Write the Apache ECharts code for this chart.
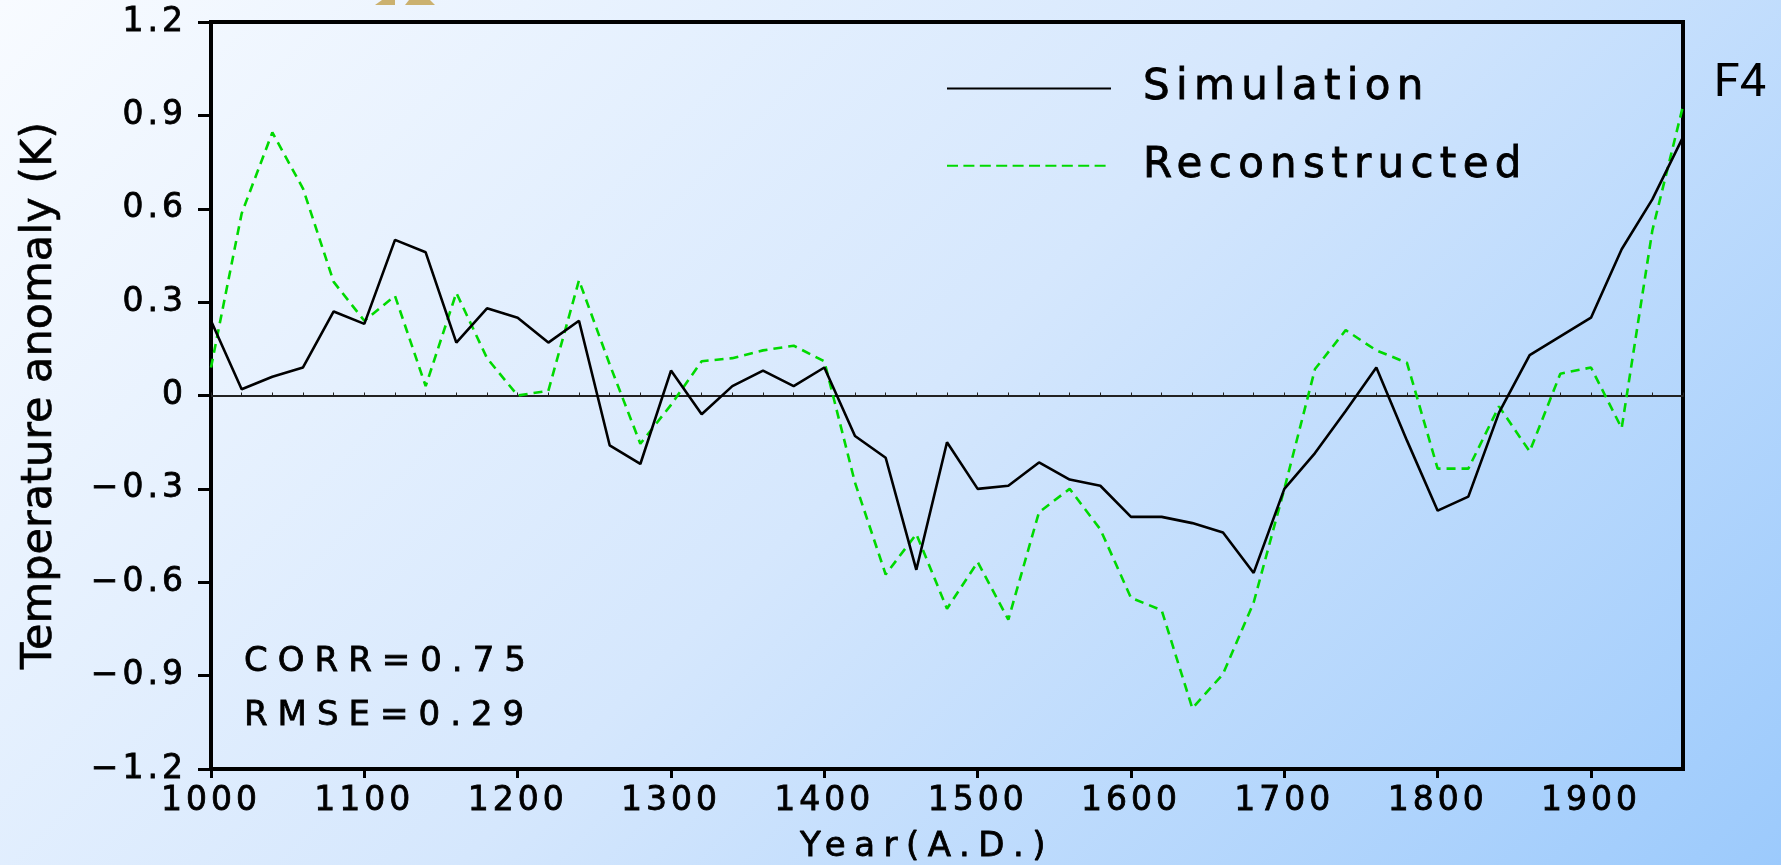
<!DOCTYPE html>
<html>
<head>
<meta charset="utf-8">
<script src="https://cdn.jsdelivr.net/npm/echarts@6/dist/echarts.min.js"></script>
<style>
html,body{margin:0;padding:0;background:#ffffff;overflow:hidden;}
#chart{width:1781px;height:865px;}
</style>
</head>
<body>
<div id="chart"></div>
<script>
// ---------------- data ----------------
const years = [1000,1020,1040,1060,1080,1100,1120,1140,1160,1180,
               1200,1220,1240,1260,1280,1300,1320,1340,1360,1380,
               1400,1420,1440,1460,1480,1500,1520,1540,1560,1580,
               1600,1620,1640,1660,1680,1700,1720,1740,1760,1780,
               1800,1820,1840,1860,1880,1900,1920,1940,1960];
const simulation = [0.24,0.02,0.06,0.09,0.27,0.23,0.50,0.46,0.17,0.28,
                    0.25,0.17,0.24,-0.16,-0.22,0.08,-0.06,0.03,0.08,0.03,
                    0.09,-0.13,-0.20,-0.56,-0.15,-0.30,-0.29,-0.215,-0.27,-0.29,
                    -0.39,-0.39,-0.41,-0.44,-0.57,-0.30,-0.185,-0.05,0.09,-0.145,
                    -0.37,-0.325,-0.055,0.13,0.19,0.25,0.47,0.63,0.83];
const reconstructed = [0.09,0.585,0.845,0.665,0.365,0.24,0.32,0.03,0.33,0.12,
                       0.00,0.015,0.37,0.10,-0.155,-0.03,0.11,0.12,0.145,0.16,
                       0.11,-0.28,-0.575,-0.445,-0.685,-0.535,-0.72,-0.375,-0.30,-0.43,
                       -0.65,-0.69,-1.005,-0.895,-0.665,-0.30,0.085,0.21,0.145,0.105,
                       -0.235,-0.235,-0.035,-0.18,0.07,0.09,-0.105,0.53,0.93];
const xTickLabels = [1000,1100,1200,1300,1400,1500,1600,1700,1800,1900];
const yTickLabels = [-1.2,-0.9,-0.6,-0.3,0,0.3,0.6,0.9,1.2];
const seriesNames = ['Simulation','Reconstructed'];
const statLabels = ['CORR=0.75','RMSE=0.29'];
const xAxisTitle = 'Year(A.D.)';
const yAxisTitle = 'Temperature anomaly (K)';
const panelLabel = 'F4';

// ---- letter spacing for the wide-spaced plotting font (tag "lsN" / "lsNpM" in family list) ----
(function(){
  const P = CanvasRenderingContext2D.prototype;
  if (!('letterSpacing' in P)) return;
  function apply(ctx){
    const f = ctx.font || '';
    const m = f.match(/\bls(\d+)(?:p(\d+))?\b/);
    ctx.letterSpacing = m ? (m[1] + (m[2] ? '.' + m[2] : '') + 'px') : '0px';
  }
  ['fillText','strokeText','measureText'].forEach(function(n){
    const o = P[n];
    P[n] = function(){ apply(this); return o.apply(this, arguments); };
  });
})();

const F = '"DejaVu Sans"';
const TB = 0.8; // slight stroke to thicken glyphs like the original plotting font
const chart = echarts.init(document.getElementById('chart'), null, {renderer:'canvas'});

function fmtY(v){
  if (Math.abs(v) < 1e-9) return '0';
  return (v < 0 ? '\u2212' : '') + Math.abs(v).toFixed(1);
}

const option = {
  animation: false,
  backgroundColor: {
    type: 'linear', x: 0, y: 0, x2: 1323, y2: 1323, global: true,
    colorStops: [
      {offset: 0, color: '#f8fbff'},
      {offset: 0.5, color: '#d5e7fd'},
      {offset: 1, color: '#9ccafc'}
    ]
  },
  grid: {
    left: 211, right: 98, top: 22, bottom: 96,
    show: true, borderColor: '#000', borderWidth: 4,
    backgroundColor: 'transparent',
    outerBoundsMode: 'none'
  },
  legend: {
    data: [
      {name: seriesNames[0]},
      {name: seriesNames[1], lineStyle: {type: [11,5.4]}}
    ],
    orient: 'vertical',
    left: 946, top: 64,
    padding: 0,
    itemWidth: 164, itemHeight: 14, itemGap: 28,
    selectedMode: false,
    itemStyle: {opacity: 0},
    textStyle: {fontSize: 42, fontFamily: F + ', ls6p3', color: '#000', lineHeight: 42,
                padding: [0,0,0,27], textBorderColor: '#000', textBorderWidth: TB}
  },
  xAxis: [{
    type: 'value', min: years[0], max: years[years.length-1], position: 'bottom',
    axisLine: {show: true, onZero: false, lineStyle: {color: '#000', width: 4}},
    axisTick: {show: true, customValues: xTickLabels, length: 9, lineStyle: {color: '#000', width: 3}},
    axisLabel: {customValues: xTickLabels, fontSize: 33, fontFamily: F + ', ls4', color: '#000', margin: 14,
                textBorderColor: '#000', textBorderWidth: TB,
                formatter: function(v){ return String(v); }},
    splitLine: {show: false},
    name: xAxisTitle, nameLocation: 'middle', nameGap: 57,
    nameTextStyle: {fontSize: 34, fontFamily: F + ', ls8p5', color: '#000', padding: [0,40,0,0],
                    textBorderColor: '#000', textBorderWidth: TB}
  }, {
    type: 'value', min: years[0], max: years[years.length-1], interval: 20, position: 'top',
    axisLine: {show: true, onZero: true, onZeroAxisIndex: 0, lineStyle: {color: '#222', width: 1.8}},
    axisTick: {show: true, length: 3, lineStyle: {color: '#222', width: 1}},
    axisLabel: {show: false},
    splitLine: {show: false}
  }],
  yAxis: {
    type: 'value', min: yTickLabels[0], max: yTickLabels[yTickLabels.length-1], interval: 0.3,
    axisLine: {show: true, onZero: false, lineStyle: {color: '#000', width: 4}},
    axisTick: {show: true, length: 13, lineStyle: {color: '#000', width: 3}},
    axisLabel: {fontSize: 33, fontFamily: F + ', ls4', color: '#000', margin: 24, formatter: fmtY,
                textBorderColor: '#000', textBorderWidth: TB},
    splitLine: {show: false},
    name: yAxisTitle, nameLocation: 'middle', nameGap: 150, nameRotate: 90,
    nameTextStyle: {fontSize: 43, fontFamily: F, color: '#000', textBorderColor: '#000', textBorderWidth: 0.6}
  },
  series: [{
    name: seriesNames[1], type: 'line', xAxisIndex: 0,
    data: years.map(function(y,i){ return [y, reconstructed[i]]; }),
    symbol: 'none', z: 2,
    lineStyle: {color: '#00d900', width: 2.6, type: [9,6]},
    itemStyle: {color: '#00d900'}
  }, {
    name: seriesNames[0], type: 'line', xAxisIndex: 0,
    data: years.map(function(y,i){ return [y, simulation[i]]; }),
    symbol: 'none', z: 3,
    lineStyle: {color: '#000', width: 2.6},
    itemStyle: {color: '#000'}
  }],
  graphic: [
    {type: 'text', x: 244, y: 662, style: {text: statLabels[0], fontSize: 34, fontFamily: F + ', ls10', fill: '#000',
      verticalAlign: 'middle', stroke: '#000', lineWidth: TB}},
    {type: 'text', x: 244, y: 716, style: {text: statLabels[1], fontSize: 34, fontFamily: F + ', ls10', fill: '#000',
      verticalAlign: 'middle', stroke: '#000', lineWidth: TB}},
    {type: 'text', x: 1740, y: 84, style: {text: panelLabel, fontSize: 47, fontFamily: 'Roboto', fill: '#000',
      align: 'center', verticalAlign: 'middle'}},
    {type: 'polygon', shape: {points: [[382,0],[395,0],[395,5],[375,5]]}, style: {fill: '#cbb16f'}},
    {type: 'polygon', shape: {points: [[409,0],[430,0],[435,5],[405,5]]}, style: {fill: '#cbb16f'}}
  ]
};
chart.setOption(option);
</script>
</body>
</html>
